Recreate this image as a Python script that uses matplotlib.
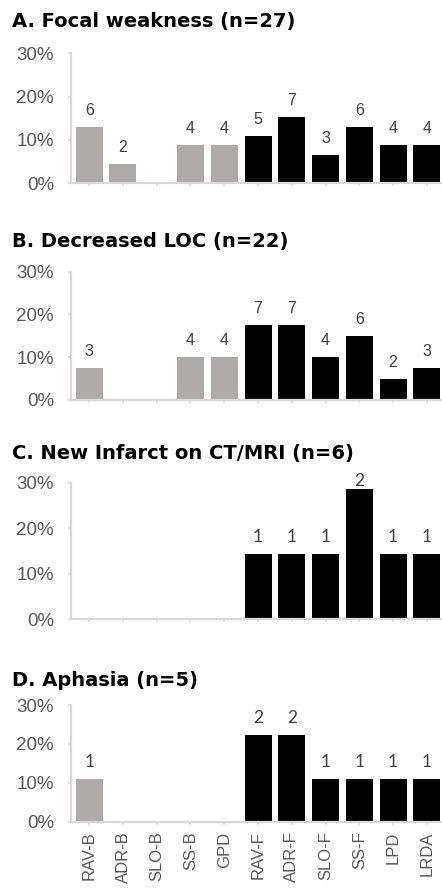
import matplotlib
matplotlib.use("Agg")
import matplotlib.pyplot as plt
import numpy as np

# EEG pattern categories (B = bilateral/generalized, F = focal/lateralized)
categories = ["RAV-B", "ADR-B", "SLO-B", "SS-B", "GPD",
              "RAV-F", "ADR-F", "SLO-F", "SS-F", "LPD", "LRDA"]
n_bilateral = 5

titles = ["A. Focal weakness (n=27)",
          "B. Decreased LOC (n=22)",
          "C. New Infarct on CT/MRI (n=6)",
          "D. Aphasia (n=5)"]

# patient counts shown above the bars
counts_a = [6, 2, 0, 4, 4, 5, 7, 3, 6, 4, 4]
counts_b = [3, 0, 0, 4, 4, 7, 7, 4, 6, 2, 3]
counts_c = [0, 0, 0, 0, 0, 1, 1, 1, 2, 1, 1]
counts_d = [1, 0, 0, 0, 0, 2, 2, 1, 1, 1, 1]

# percentages (bar heights)
pct_a = [13.0, 4.3, 0, 8.7, 8.7, 10.9, 15.2, 6.5, 13.0, 8.7, 8.7]
pct_b = [7.5, 0, 0, 10.0, 10.0, 17.5, 17.5, 10.0, 15.0, 5.0, 7.5]
pct_c = [0, 0, 0, 0, 0, 14.3, 14.3, 14.3, 28.6, 14.3, 14.3]
pct_d = [11.1, 0, 0, 0, 0, 22.2, 22.2, 11.1, 11.1, 11.1, 11.1]

yticks = [0, 10, 20, 30]
ytick_labels = ["0%", "10%", "20%", "30%"]

GRAY = "#aeaaaa"
AXIS = "#d9d9d9"
TXT = "#595959"
W, H = 442, 891

# panel boxes in pixels: (top of 30%, bottom at 0%), title baseline
panels = [
    (53.3, 183.0, 27.5, counts_a, pct_a, "Liberation Sans", 11.5),
    (271.7, 400.0, 247.0, counts_b, pct_b, "Liberation Sans", 11.5),
    (482.7, 619.0, 459.0, counts_c, pct_c, "Lato", 12.5),
    (705.0, 821.7, 685.5, counts_d, pct_d, "Lato", 12.5),
]
ax_left, ax_right = 71.0, 443.0

fig = plt.figure(figsize=(W / 100, H / 100), dpi=100)
x = np.arange(len(categories))
colors = [GRAY] * n_bilateral + ["black"] * (len(categories) - n_bilateral)

for i, (top, bot, tbase, counts, pct, cfont, csize) in enumerate(panels):
    ax = fig.add_axes([ax_left / W, 1 - bot / H,
                       (ax_right - ax_left) / W, (bot - top) / H])
    ax.bar(x, pct, width=0.8, color=colors, zorder=2)
    ax.set_xlim(-0.54, 10.48)
    ax.set_ylim(0, 30)
    ax.set_yticks(yticks)
    ax.set_yticklabels(ytick_labels, fontsize=13.5, color=TXT,
                       family="Liberation Sans")
    for side in ["top", "right"]:
        ax.spines[side].set_visible(False)
    for side in ["left", "bottom"]:
        ax.spines[side].set_color(AXIS)
        ax.spines[side].set_linewidth(1.6)
    ax.tick_params(axis="y", length=2.2, width=1.2, color=AXIS, pad=10)
    ax.tick_params(axis="x", length=2.2, width=1.2, color=AXIS, pad=5)
    ax.set_xticks(x)
    if i == len(panels) - 1:
        ax.set_xticklabels(categories, rotation=90, fontsize=12,
                           color=TXT, family="Liberation Sans")
    else:
        ax.set_xticklabels([])

    for xi, c, p in zip(x, counts, pct):
        if c == 0:
            continue
        # a label that would run past the top of the axis sits closer to its bar
        off = 2 if p > 26 else 8.6
        ax.annotate(str(c), (xi, p), xytext=(0, off),
                    textcoords="offset points", ha="center", va="baseline",
                    fontsize=csize, color="#404040", family=cfont)

    fig.text(12 / W, 1 - tbase / H, titles[i], fontsize=14,
             fontweight="bold", family="DejaVu Sans", va="baseline",
             ha="left", color="black")

fig.savefig("out.png", dpi=100)
